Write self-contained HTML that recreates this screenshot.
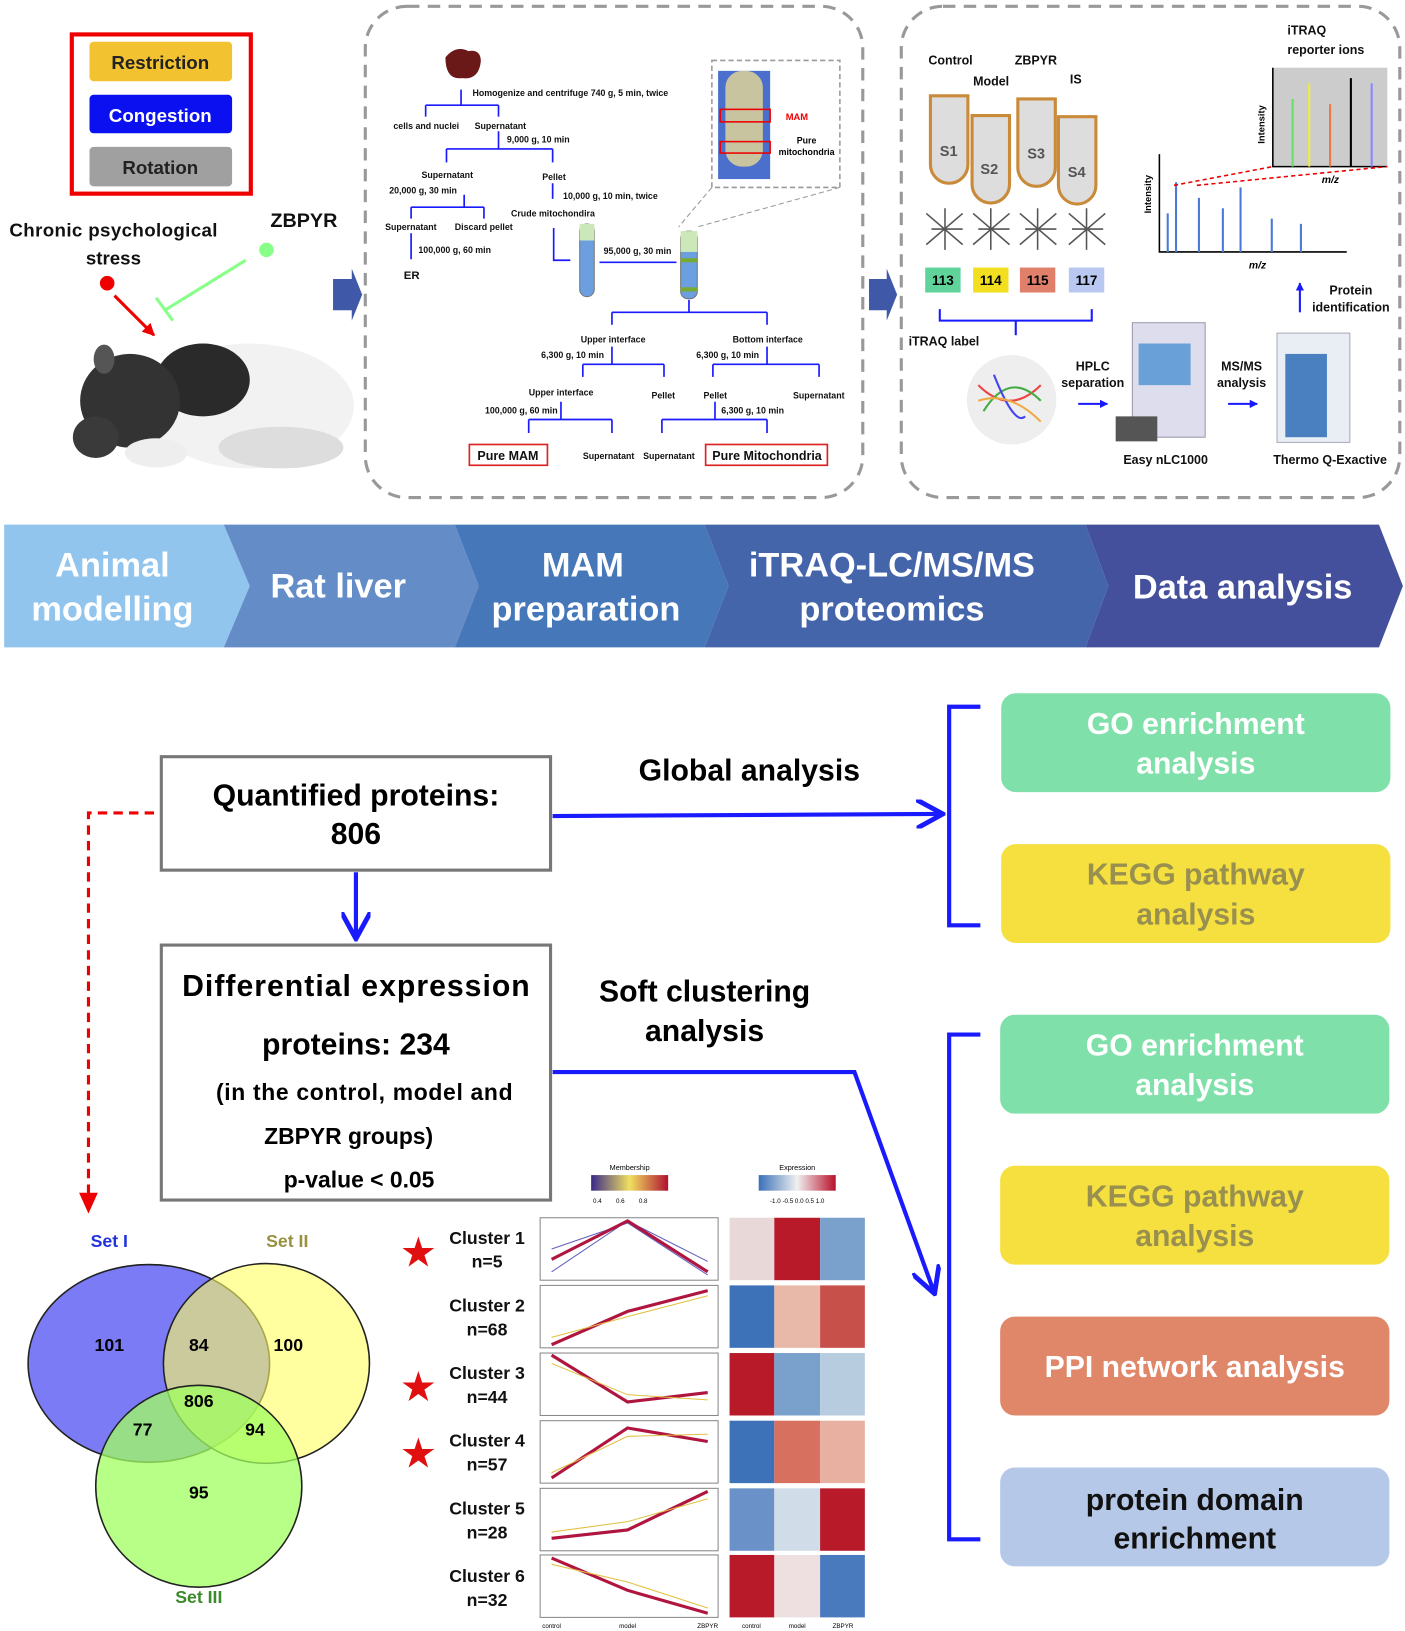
<!DOCTYPE html>
<html><head><meta charset="utf-8"><style>
html,body{margin:0;padding:0;background:#fff}
svg{display:block;font-family:"Liberation Sans",Arial,sans-serif}
</style></head><body>
<svg width="1405" height="1631" viewBox="0 0 1350 1567" xmlns="http://www.w3.org/2000/svg">
<defs>
<marker id="bh" viewBox="0 0 10 10" refX="9" refY="5" markerWidth="4" markerHeight="4" orient="auto"><path d="M0,0L10,5L0,10z" fill="#1a1aff"/></marker>
<marker id="bo" viewBox="0 0 12 12" refX="11" refY="6" markerWidth="7" markerHeight="7" orient="auto"><path d="M0,0L11,6L0,12" fill="none" stroke="#1a1aff" stroke-width="2"/></marker>
<marker id="rh" viewBox="0 0 10 10" refX="9" refY="5" markerWidth="4" markerHeight="4" orient="auto"><path d="M0,0L10,5L0,10z" fill="#e00"/></marker>
</defs>

<!-- top-left -->
<rect x="69" y="33" width="172" height="153" fill="none" stroke="#e00" stroke-width="4"/>
<rect x="86" y="40" width="137" height="38" rx="4" fill="#f2c230"/>
<text x="154" y="66" font-size="18" font-weight="bold" text-anchor="middle" fill="#222">Restriction</text>
<rect x="86" y="91" width="137" height="37" rx="4" fill="#0a10f0"/>
<text x="154" y="117" font-size="18" font-weight="bold" text-anchor="middle" fill="#fff">Congestion</text>
<rect x="86" y="141" width="137" height="38" rx="4" fill="#a0a0a0"/>
<text x="154" y="167" font-size="18" font-weight="bold" text-anchor="middle" fill="#222">Rotation</text>
<text x="109" y="227" font-size="18" font-weight="bold" text-anchor="middle" fill="#111" textLength="200">Chronic psychological</text>
<text x="109" y="254" font-size="18" font-weight="bold" text-anchor="middle" fill="#111">stress</text>
<text x="292" y="218" font-size="19" font-weight="bold" text-anchor="middle" fill="#111">ZBPYR</text>
<circle cx="103" cy="272" r="7" fill="#e00"/>
<line x1="110" y1="284" x2="148" y2="322" stroke="#e00" stroke-width="3" marker-end="url(#rh)"/>
<circle cx="256" cy="240" r="7" fill="#8f8"/>
<line x1="236" y1="250" x2="160" y2="297" stroke="#8f8" stroke-width="3"/>
<line x1="150" y1="286" x2="166" y2="308" stroke="#8f8" stroke-width="3"/>
<!-- rat -->
<ellipse cx="240" cy="390" rx="100" ry="60" fill="#f2f2f2"/>
<ellipse cx="270" cy="430" rx="60" ry="20" fill="#ddd"/>
<ellipse cx="195" cy="365" rx="45" ry="35" fill="#2a2a2a"/>
<ellipse cx="125" cy="385" rx="48" ry="45" fill="#333"/>
<ellipse cx="92" cy="420" rx="22" ry="20" fill="#3a3a3a"/>
<ellipse cx="100" cy="345" rx="10" ry="14" fill="#555"/>
<ellipse cx="150" cy="435" rx="30" ry="14" fill="#eee"/>
<path d="M320 268 L338 268 L338 258 L348 283 L338 308 L338 298 L320 298z" fill="#3f58a8"/>

<!-- dashed panels -->
<rect x="351" y="6" width="478" height="472" rx="40" fill="none" stroke="#999" stroke-width="3" stroke-dasharray="12,8"/>
<rect x="866" y="6" width="479" height="472" rx="40" fill="none" stroke="#999" stroke-width="3" stroke-dasharray="12,8"/>
<path d="M835 268 L852 268 L852 258 L862 283 L852 308 L852 298 L835 298z" fill="#3f58a8"/>

<!-- flowchart -->
<g font-size="8.5" font-weight="bold" fill="#111" stroke="#1a1aff" stroke-width="1.6">
<path d="M428 55q10-12 22-6q12-2 12 10q-2 18-18 16q-16 2-16-20z" fill="#6a1818" stroke="none"/>
<g fill="none">
<path d="M443 86V101M409 101H479M409 101V112M479 101V112M479 126V143M429 143H531M429 143V156M531 143V156M531 176V191M446 187V199M395 199H465M395 199V210M465 199V210M395 224V249"/>
<path d="M532 219V250H548M576 252H650M662 288V300M588 300H737M588 300V312M737 300V312M588 333V350M560 350H638M560 350V362M638 350V362M737 333V350M685 350H787M685 350V362M787 350V362M539 386V403M508 403H588M508 403V416M588 403V416M687 386V403M636 403H737M636 403V416M737 403V416"/>
</g>
<g stroke="none">
<text x="454" y="92">Homogenize and centrifuge 740 g, 5 min, twice</text>
<text x="378" y="124">cells and nuclei</text><text x="456" y="124">Supernatant</text>
<text x="487" y="137">9,000 g, 10 min</text>
<text x="405" y="171">Supernatant</text><text x="521" y="173">Pellet</text>
<text x="374" y="186">20,000 g, 30 min</text><text x="541" y="191">10,000 g, 10 min, twice</text>
<text x="370" y="221">Supernatant</text><text x="437" y="221">Discard pellet</text><text x="491" y="208">Crude mitochondira</text>
<text x="402" y="243">100,000 g, 60 min</text><text x="580" y="244">95,000 g, 30 min</text>
<text x="388" y="268" font-size="11">ER</text>
<text x="558" y="329">Upper interface</text><text x="704" y="329">Bottom interface</text>
<text x="520" y="344">6,300 g, 10 min</text><text x="669" y="344">6,300 g, 10 min</text>
<text x="508" y="380">Upper interface</text><text x="626" y="383">Pellet</text><text x="676" y="383">Pellet</text><text x="762" y="383">Supernatant</text>
<text x="466" y="397">100,000 g, 60 min</text><text x="693" y="397">6,300 g, 10 min</text>
<text x="560" y="441">Supernatant</text><text x="618" y="441">Supernatant</text>
</g>
<rect x="451" y="427" width="75" height="20" fill="#fff" stroke="#d22"/>
<text x="488" y="442" font-size="12" text-anchor="middle" stroke="none">Pure MAM</text>
<rect x="678" y="427" width="117" height="20" fill="#fff" stroke="#d22"/>
<text x="737" y="442" font-size="12" text-anchor="middle" stroke="none">Pure Mitochondria</text>
</g>
<!-- tubes -->
<rect x="557" y="215" width="14" height="70" rx="7" fill="#6b9fe0" stroke="#777"/>
<rect x="557" y="215" width="14" height="16" fill="#cde8b8"/>
<rect x="654" y="222" width="16" height="65" rx="7" fill="#6b9fe0" stroke="#777"/>
<rect x="654" y="222" width="16" height="20" fill="#cde8b8"/><rect x="654" y="248" width="16" height="4" fill="#7a3"/><rect x="654" y="276" width="16" height="4" fill="#7a3"/>
<rect x="684" y="58" width="123" height="122" fill="none" stroke="#999" stroke-width="1.5" stroke-dasharray="5,3"/>
<line x1="684" y1="180" x2="652" y2="218" stroke="#999" stroke-dasharray="5,3"/><line x1="807" y1="180" x2="670" y2="218" stroke="#999" stroke-dasharray="5,3"/>
<rect x="690" y="68" width="50" height="104" fill="#4a6fcc"/>
<rect x="697" y="68" width="36" height="92" rx="16" fill="#c8c4a0"/>
<rect x="692" y="105" width="48" height="12" fill="none" stroke="#e00" stroke-width="1.5"/>
<rect x="692" y="136" width="48" height="11" fill="none" stroke="#e00" stroke-width="1.5"/>
<text x="755" y="115" font-size="9" font-weight="bold" fill="#e00">MAM</text>
<text x="775" y="138" font-size="8.5" font-weight="bold" text-anchor="middle">Pure</text>
<text x="775" y="149" font-size="8.5" font-weight="bold" text-anchor="middle">mitochondria</text>

<!-- iTRAQ panel -->
<g font-size="12" font-weight="bold" fill="#111">
<text x="892" y="62">Control</text><text x="975" y="62">ZBPYR</text><text x="935" y="82">Model</text><text x="1028" y="80">IS</text>
<text x="1237" y="33">iTRAQ</text><text x="1237" y="52">reporter ions</text>
<text x="873" y="332">iTRAQ label</text>
<text x="1050" y="356" text-anchor="middle">HPLC</text><text x="1050" y="372" text-anchor="middle">separation</text>
<text x="1193" y="356" text-anchor="middle">MS/MS</text><text x="1193" y="372" text-anchor="middle">analysis</text>
<text x="1120" y="446" text-anchor="middle">Easy nLC1000</text><text x="1278" y="446" text-anchor="middle">Thermo Q-Exactive</text>
<text x="1298" y="283" text-anchor="middle">Protein</text><text x="1298" y="299" text-anchor="middle">identification</text>
</g>
<g fill="#ddd" stroke="#c98a3a" stroke-width="3">
<path d="M894 92H930V158A18 18 0 0 1 894 158Z"/><path d="M934 111H970V177A18 18 0 0 1 934 177Z"/><path d="M978 95H1014V161A18 18 0 0 1 978 161Z"/><path d="M1017 112H1053V178A18 18 0 0 1 1017 178Z"/>
</g>
<g font-size="14" font-weight="bold" fill="#555"><text x="903" y="150">S1</text><text x="942" y="167">S2</text><text x="987" y="152">S3</text><text x="1026" y="170">S4</text></g>
<g stroke="#555" stroke-width="1.5" fill="none">
<path d="M890 205l35 30M925 205l-35 30M895 220h30M908 200v40"/><path d="M935 205l35 30M970 205l-35 30M940 220h30M952 200v40"/><path d="M980 205l35 30M1015 205l-35 30M985 220h30M997 200v40"/><path d="M1027 205l35 30M1062 205l-35 30M1030 220h30M1044 200v40"/>
</g>
<rect x="889" y="257" width="34" height="24" fill="#5fd39a"/><rect x="935" y="257" width="34" height="24" fill="#f2e020"/><rect x="980" y="257" width="34" height="24" fill="#e0806a"/><rect x="1027" y="257" width="34" height="24" fill="#b8c8f0"/>
<g font-size="13" font-weight="bold" text-anchor="middle"><text x="906" y="274">113</text><text x="952" y="274">114</text><text x="997" y="274">115</text><text x="1044" y="274">117</text></g>
<path d="M903 297V308H1049V297M976 308V322" fill="none" stroke="#1a1aff" stroke-width="2"/>
<circle cx="972" cy="384" r="43" fill="#eee"/>
<g stroke-width="2" fill="none"><path d="M940 370q30 30 60 0" stroke="#e44"/><path d="M945 395q25-40 55-10" stroke="#4a4"/><path d="M955 360q20 50 30 40" stroke="#44e"/><path d="M940 385q30-10 60 20" stroke="#ea4"/></g>
<line x1="1036" y1="388" x2="1064" y2="388" stroke="#1a1aff" stroke-width="2" marker-end="url(#bh)"/>
<line x1="1180" y1="388" x2="1208" y2="388" stroke="#1a1aff" stroke-width="2" marker-end="url(#bh)"/>
<line x1="1249" y1="300" x2="1249" y2="272" stroke="#1a1aff" stroke-width="2" marker-end="url(#bh)"/>
<rect x="1088" y="310" width="70" height="110" fill="#dde" stroke="#99a"/><rect x="1094" y="330" width="50" height="40" fill="#6aa0d8"/><rect x="1072" y="400" width="40" height="24" fill="#555"/>
<rect x="1227" y="320" width="70" height="105" fill="#e8eef4" stroke="#aab"/><rect x="1235" y="340" width="40" height="80" fill="#4a7fc0"/>
<!-- spectra -->
<path d="M1114 148V242H1294" fill="none" stroke="#000" stroke-width="1.5"/>
<g stroke="#4a7ad8" stroke-width="2"><path d="M1122 242V205M1130 242V175M1152 242V190M1175 242V200M1192 242V180M1222 242V210M1250 242V215"/></g>
<rect x="1223" y="65" width="110" height="95" fill="#ccc"/>
<path d="M1223 65V160H1333" fill="none" stroke="#000" stroke-width="1.5"/>
<g stroke-width="2"><path d="M1242 160V95" stroke="#6d6"/><path d="M1258 160V80" stroke="#ee4"/><path d="M1278 160V100" stroke="#e74"/><path d="M1298 160V75" stroke="#000"/><path d="M1318 160V80" stroke="#88f"/></g>
<path d="M1128 178L1223 160M1150 178L1333 160" stroke="#e00" stroke-dasharray="4,3" stroke-width="1.5"/>
<text x="1200" y="258" font-size="10" font-style="italic" font-weight="bold">m/z</text><text x="1270" y="176" font-size="10" font-style="italic" font-weight="bold">m/z</text>
<text transform="translate(1106,205) rotate(-90)" font-size="9" font-weight="bold">Intensity</text>
<text transform="translate(1215,138) rotate(-90)" font-size="9" font-weight="bold">Intensity</text>

<!-- banner -->
<path d="M4 504H215L240 563L215 622H4Z" fill="#92c5ee"/>
<path d="M215 504H437L460 563L437 622H215L240 563Z" fill="#648dc8"/>
<path d="M437 504H677L700 563L677 622H437L460 563Z" fill="#4577b9"/>
<path d="M677 504H1043L1065 563L1043 622H677L700 563Z" fill="#4565ab"/>
<path d="M1043 504H1325L1348 563L1325 622H1043L1065 563Z" fill="#44509c"/>
<g font-size="33" font-weight="bold" fill="#fff" text-anchor="middle">
<text x="108" y="554">Animal</text><text x="108" y="596">modelling</text>
<text x="325" y="574">Rat liver</text>
<text x="560" y="554">MAM</text><text x="563" y="596">preparation</text>
<text x="857" y="554">iTRAQ-LC/MS/MS</text><text x="857" y="596">proteomics</text>
<text x="1194" y="575">Data analysis</text>
</g>

<!-- bottom -->
<rect x="155" y="727" width="374" height="109" fill="#fff" stroke="#777" stroke-width="3"/>
<text x="342" y="774" font-size="29" font-weight="bold" text-anchor="middle">Quantified proteins:</text>
<text x="342" y="811" font-size="29" font-weight="bold" text-anchor="middle">806</text>
<rect x="155" y="908" width="374" height="245" fill="#fff" stroke="#777" stroke-width="3"/>
<g font-weight="bold" text-anchor="middle"><text x="342" y="957" font-size="29" textLength="334">Differential expression</text>
<text x="342" y="1013" font-size="29">proteins: 234</text>
<text x="350" y="1057" font-size="22" textLength="285">(in the control, model and</text>
<text x="335" y="1099" font-size="22">ZBPYR groups)</text>
<text x="345" y="1141" font-size="22">p-value &lt; 0.05</text>
<text x="720" y="750" font-size="29">Global analysis</text>
<text x="677" y="962" font-size="29">Soft clustering</text><text x="677" y="1000" font-size="29">analysis</text></g>
<line x1="342" y1="838" x2="342" y2="902" stroke="#1a1aff" stroke-width="4" marker-end="url(#bo)"/>
<line x1="531" y1="784" x2="906" y2="782" stroke="#1a1aff" stroke-width="4" marker-end="url(#bo)"/>
<path d="M531 1030H821L898 1243" fill="none" stroke="#1a1aff" stroke-width="4" marker-end="url(#bo)"/>
<path d="M942 679H912V889H942M942 994H912V1479H942" fill="none" stroke="#1a1aff" stroke-width="4"/>
<path d="M148 781H85V1160" fill="none" stroke="#e00" stroke-width="3" stroke-dasharray="9,6"/>
<path d="M76 1146L94 1146L85 1166Z" fill="#e00"/>

<g font-size="29" font-weight="bold" text-anchor="middle">
<rect x="962" y="666" width="374" height="95" rx="14" fill="#80e0aa"/><text x="1149" y="705" fill="#fff">GO enrichment</text><text x="1149" y="743" fill="#fff">analysis</text>
<rect x="962" y="811" width="374" height="95" rx="14" fill="#f5e040"/><text x="1149" y="850" fill="#999050">KEGG pathway</text><text x="1149" y="888" fill="#999050">analysis</text>
<rect x="961" y="975" width="374" height="95" rx="14" fill="#80e0aa"/><text x="1148" y="1014" fill="#fff">GO enrichment</text><text x="1148" y="1052" fill="#fff">analysis</text>
<rect x="961" y="1120" width="374" height="95" rx="14" fill="#f5e040"/><text x="1148" y="1159" fill="#999050">KEGG pathway</text><text x="1148" y="1197" fill="#999050">analysis</text>
<rect x="961" y="1265" width="374" height="95" rx="14" fill="#e0876a"/><text x="1148" y="1323" fill="#fff">PPI network analysis</text>
<rect x="961" y="1410" width="374" height="95" rx="14" fill="#b6c8e8"/><text x="1148" y="1451" fill="#111">protein domain</text><text x="1148" y="1488" fill="#111">enrichment</text>
</g>

<!-- venn -->
<ellipse cx="143" cy="1310" rx="116" ry="95" fill="#7b7bf5" stroke="#222" stroke-width="1.5"/>
<ellipse cx="256" cy="1310" rx="99" ry="96" fill="#ffff60" stroke="#222" stroke-width="1.5" fill-opacity="0.6"/>
<ellipse cx="191" cy="1428" rx="99" ry="97" fill="#a0ff60" stroke="#222" stroke-width="1.5" fill-opacity="0.75"/>
<g font-size="17" font-weight="bold" text-anchor="middle"><text x="105" y="1298">101</text><text x="191" y="1298">84</text><text x="277" y="1298">100</text><text x="191" y="1352">806</text><text x="137" y="1379">77</text><text x="245" y="1379">94</text><text x="191" y="1440">95</text>
<text x="105" y="1198" fill="#2233dd">Set I</text><text x="276" y="1198" fill="#999040">Set II</text><text x="191" y="1540" fill="#3a8a2a">Set III</text></g>

<!-- clusters -->
<g font-size="7" text-anchor="middle"><text x="605" y="1124">Membership</text><text x="766" y="1124">Expression</text></g>
<defs><linearGradient id="mg"><stop offset="0" stop-color="#3a2a8a"/><stop offset=".5" stop-color="#f0e060"/><stop offset="1" stop-color="#b01030"/></linearGradient>
<linearGradient id="eg"><stop offset="0" stop-color="#3a70b8"/><stop offset=".5" stop-color="#f0f0f0"/><stop offset="1" stop-color="#b8102a"/></linearGradient></defs>
<rect x="568" y="1129" width="74" height="15" fill="url(#mg)"/><rect x="729" y="1129" width="74" height="15" fill="url(#eg)"/>
<g font-size="6" text-anchor="middle"><text x="574" y="1156">0.4</text><text x="596" y="1156">0.6</text><text x="618" y="1156">0.8</text><text x="766" y="1156">-1.0 -0.5 0.0 0.5 1.0</text></g>
<g font-size="17" font-weight="bold" text-anchor="middle" fill="#111">
<text x="468" y="1195">Cluster 1</text><text x="468" y="1218">n=5</text>
<text x="468" y="1260">Cluster 2</text><text x="468" y="1283">n=68</text>
<text x="468" y="1325">Cluster 3</text><text x="468" y="1348">n=44</text>
<text x="468" y="1390">Cluster 4</text><text x="468" y="1413">n=57</text>
<text x="468" y="1455">Cluster 5</text><text x="468" y="1478">n=28</text>
<text x="468" y="1520">Cluster 6</text><text x="468" y="1543">n=32</text>
</g>
<g fill="#e01010" font-size="40" text-anchor="middle"><text x="402" y="1217">★</text><text x="402" y="1346">★</text><text x="402" y="1410">★</text></g>
<g fill="#fff" stroke="#888"><rect x="519" y="1170" width="171" height="60"/><rect x="519" y="1235" width="171" height="60"/><rect x="519" y="1300" width="171" height="60"/><rect x="519" y="1365" width="171" height="60"/><rect x="519" y="1430" width="171" height="60"/><rect x="519" y="1494" width="171" height="60"/></g>
<g fill="none" stroke-width="1" stroke="#6060c0"><path d="M530 1222L603 1173L680 1212"/><path d="M530 1200L603 1175L680 1225"/></g>
<g fill="none" stroke-width="3" stroke="#b01540">
<path d="M530 1210L603 1173L680 1222"/><path d="M530 1292L603 1260L680 1240"/><path d="M530 1302L603 1347L680 1338"/><path d="M530 1420L603 1372L680 1385"/><path d="M530 1478L603 1470L680 1433"/><path d="M530 1497L603 1528L680 1550"/></g>
<g fill="none" stroke-width="1" stroke="#e0c040"><path d="M530 1285L603 1265L680 1245"/><path d="M530 1310L603 1340L680 1345"/><path d="M530 1415L603 1380L680 1378"/><path d="M530 1472L603 1462L680 1440"/><path d="M530 1503L603 1520L680 1545"/></g>
<!-- heatmaps -->
<g>
<rect x="701" y="1170" width="43" height="60" fill="#e8d8d8"/><rect x="744" y="1170" width="44" height="60" fill="#b81a2a"/><rect x="788" y="1170" width="43" height="60" fill="#7aa0cc"/>
<rect x="701" y="1235" width="43" height="60" fill="#3e72b8"/><rect x="744" y="1235" width="44" height="60" fill="#e8b8a8"/><rect x="788" y="1235" width="43" height="60" fill="#c8504a"/>
<rect x="701" y="1300" width="43" height="60" fill="#b81a2a"/><rect x="744" y="1300" width="44" height="60" fill="#7aa0cc"/><rect x="788" y="1300" width="43" height="60" fill="#b8cce0"/>
<rect x="701" y="1365" width="43" height="60" fill="#3e72b8"/><rect x="744" y="1365" width="44" height="60" fill="#d87060"/><rect x="788" y="1365" width="43" height="60" fill="#e8b0a0"/>
<rect x="701" y="1430" width="43" height="60" fill="#6a92c8"/><rect x="744" y="1430" width="44" height="60" fill="#d0dce8"/><rect x="788" y="1430" width="43" height="60" fill="#b81a2a"/>
<rect x="701" y="1494" width="43" height="60" fill="#b81a2a"/><rect x="744" y="1494" width="44" height="60" fill="#eee0e0"/><rect x="788" y="1494" width="43" height="60" fill="#4a7abe"/>
</g>
<g font-size="6" text-anchor="middle"><text x="530" y="1564">control</text><text x="603" y="1564">model</text><text x="680" y="1564">ZBPYR</text><text x="722" y="1564">control</text><text x="766" y="1564">model</text><text x="810" y="1564">ZBPYR</text></g>
</svg>
</body></html>
